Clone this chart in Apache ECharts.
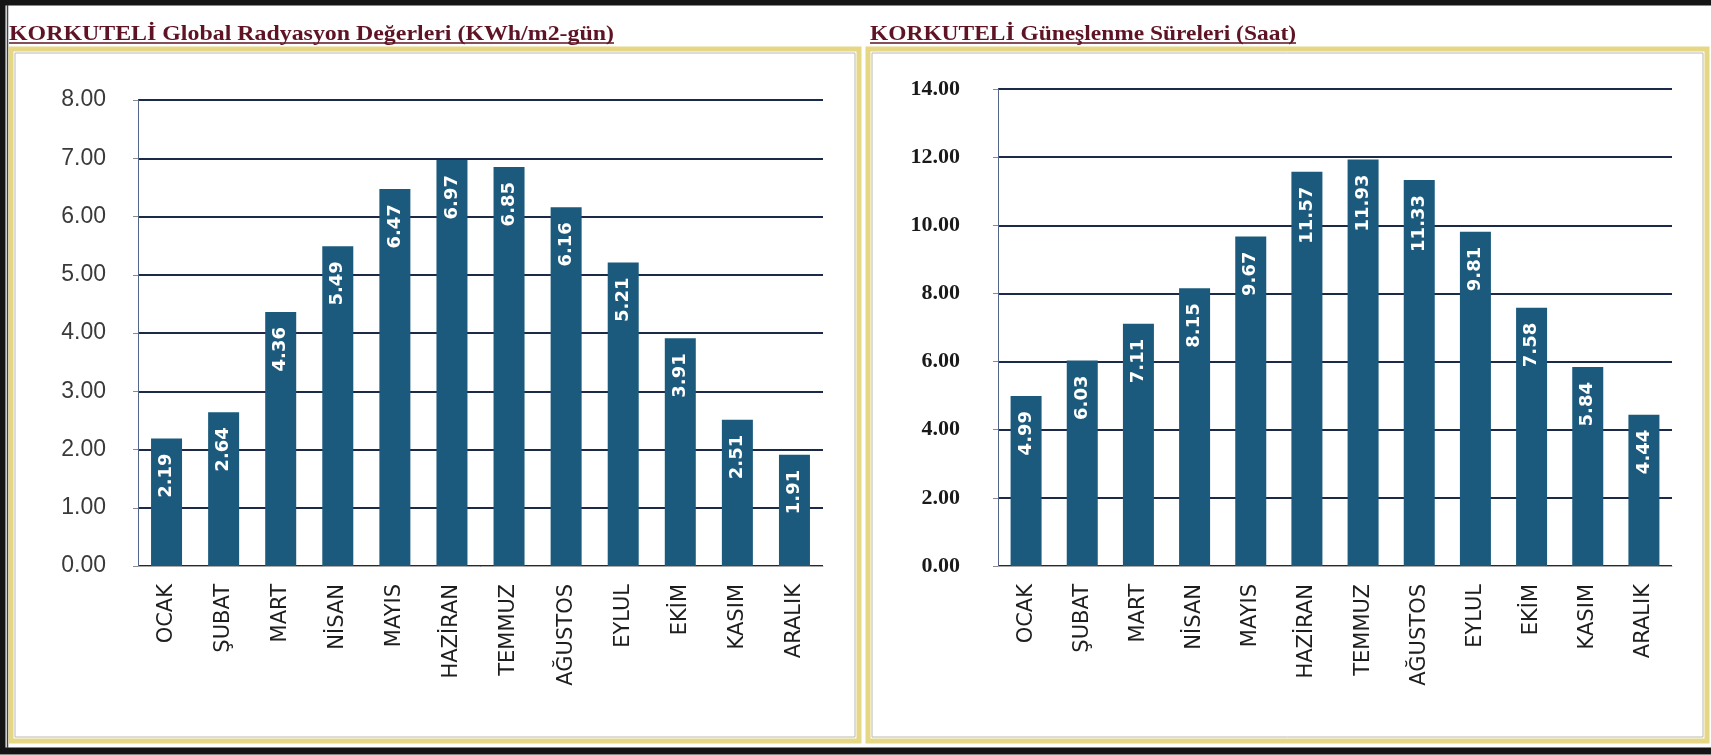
<!DOCTYPE html>
<html>
<head>
<meta charset="utf-8">
<script src="https://cdn.jsdelivr.net/npm/echarts@6/dist/echarts.min.js"></script>
<style>
  html, body { margin: 0; padding: 0; background: #fff; }
  #chart { width: 1711px; height: 755px; }
</style>
</head>
<body>
<div id="chart"></div>
<script>
// months, shared by both panels
const months = ['OCAK', 'ŞUBAT', 'MART', 'NİSAN', 'MAYIS', 'HAZİRAN', 'TEMMUZ', 'AĞUSTOS', 'EYLUL', 'EKİM', 'KASIM', 'ARALIK']

// global radiation, KWh/m2-day
const radiation = [2.19, 2.64, 4.36, 5.49, 6.47, 6.97, 6.85, 6.16, 5.21, 3.91, 2.51, 1.91]
// sunshine duration, hours
const sunshine = [4.99, 6.03, 7.11, 8.15, 9.67, 11.57, 11.93, 11.33, 9.81, 7.58, 5.84, 4.44]

const titleLeft = 'KORKUTELİ Global Radyasyon Değerleri (KWh/m2-gün)'
const titleRight = 'KORKUTELİ Güneşlenme Süreleri (Saat)'

const BAR = '#1b5a7c'
const TITLE_FONT = 'bold 22px "Liberation Serif"'

// the scanned titles are wider than the font; stretch them to the measured width
function titleGraphics(text, x, width) {
  const ctx = document.createElement('canvas').getContext('2d')
  ctx.font = TITLE_FONT
  const w = ctx.measureText(text).width
  return [
    {
      type: 'text', x: x, y: 34, scaleX: width / w, originX: 0,
      style: { text: text, font: TITLE_FONT, fill: '#5e1424', textVerticalAlign: 'middle' },
    },
    {
      type: 'line',
      shape: { x1: x, y1: 43, x2: x + width, y2: 43 },
      style: { stroke: '#5e1424', lineWidth: 1.5 },
    },
  ]
}

function box(x, y, w, h) {
  return [
    { type: 'rect', shape: { x: x, y: y, width: w, height: h }, style: { fill: '#fff', stroke: '#e6d785', lineWidth: 5 } },
    { type: 'rect', shape: { x: x + 4, y: y + 4, width: w - 8, height: h - 8 }, style: { fill: 'none', stroke: '#b9b9b0', lineWidth: 1 } },
  ]
}

const yFmt = (v) => v.toFixed(2)

function yAxis(gridIndex, max, interval, label) {
  return {
    type: 'value', gridIndex: gridIndex, min: 0, max: max, interval: interval,
    axisLine: { show: true, lineStyle: { color: '#56658a', width: 1 } },
    axisTick: { show: true, length: 5, lineStyle: { color: '#8a8a8a' } },
    splitLine: { lineStyle: { color: '#1c2a4a', width: 1.8 } },
    axisLabel: Object.assign({ formatter: yFmt }, label),
  }
}

function xAxis(gridIndex) {
  return {
    type: 'category', gridIndex: gridIndex, data: months,
    axisLine: { lineStyle: { color: '#a8a8a8', width: 1 } },
    axisTick: { length: 8, lineStyle: { color: '#8a8a8a' } },
    axisLabel: {
      rotate: 90, margin: 18, color: '#1e1e1e', fontSize: 21,
      fontFamily: 'DejaVu Sans', interval: 0,
    },
  }
}

function bars(axisIndex, values) {
  return {
    type: 'bar', xAxisIndex: axisIndex, yAxisIndex: axisIndex, data: values,
    barWidth: 31, itemStyle: { color: BAR },
    label: {
      show: true, position: 'insideTop', rotate: 90, distance: 15,
      align: 'right', verticalAlign: 'middle',
      color: '#fff', fontSize: 18, fontWeight: 'bold', fontFamily: 'DejaVu Sans',
      formatter: (p) => p.value.toFixed(2),
    },
  }
}

const chart = echarts.init(document.getElementById('chart'), null, { renderer: 'canvas' })

chart.setOption({
  animation: false,
  backgroundColor: '#fff',
  graphic: [
    // outer scan frame
    { type: 'rect', shape: { x: 2, y: 2, width: 1730, height: 749 }, style: { fill: 'none', stroke: '#151515', lineWidth: 7 } },
    { type: 'line', shape: { x1: 7.5, y1: 5, x2: 7.5, y2: 748 }, style: { stroke: '#444', lineWidth: 1.5 } },
    ...box(11, 49, 848, 692),
    ...box(868, 49, 839, 692),
    ...titleGraphics(titleLeft, 9, 605),
    ...titleGraphics(titleRight, 870, 426),
  ],
  grid: [
    { left: 138, top: 100, width: 685, height: 466 },
    { left: 998, top: 89, width: 674, height: 477 },
  ],
  xAxis: [xAxis(0), xAxis(1)],
  yAxis: [
    yAxis(0, 8, 1, { color: '#3a3a3a', fontSize: 23, fontFamily: 'Liberation Sans', margin: 32 }),
    yAxis(1, 14, 2, { color: '#1a1a1a', fontSize: 22, fontFamily: 'Liberation Serif', fontWeight: 'bold', margin: 38 }),
  ],
  series: [bars(0, radiation), bars(1, sunshine)],
})
</script>
</body>
</html>
